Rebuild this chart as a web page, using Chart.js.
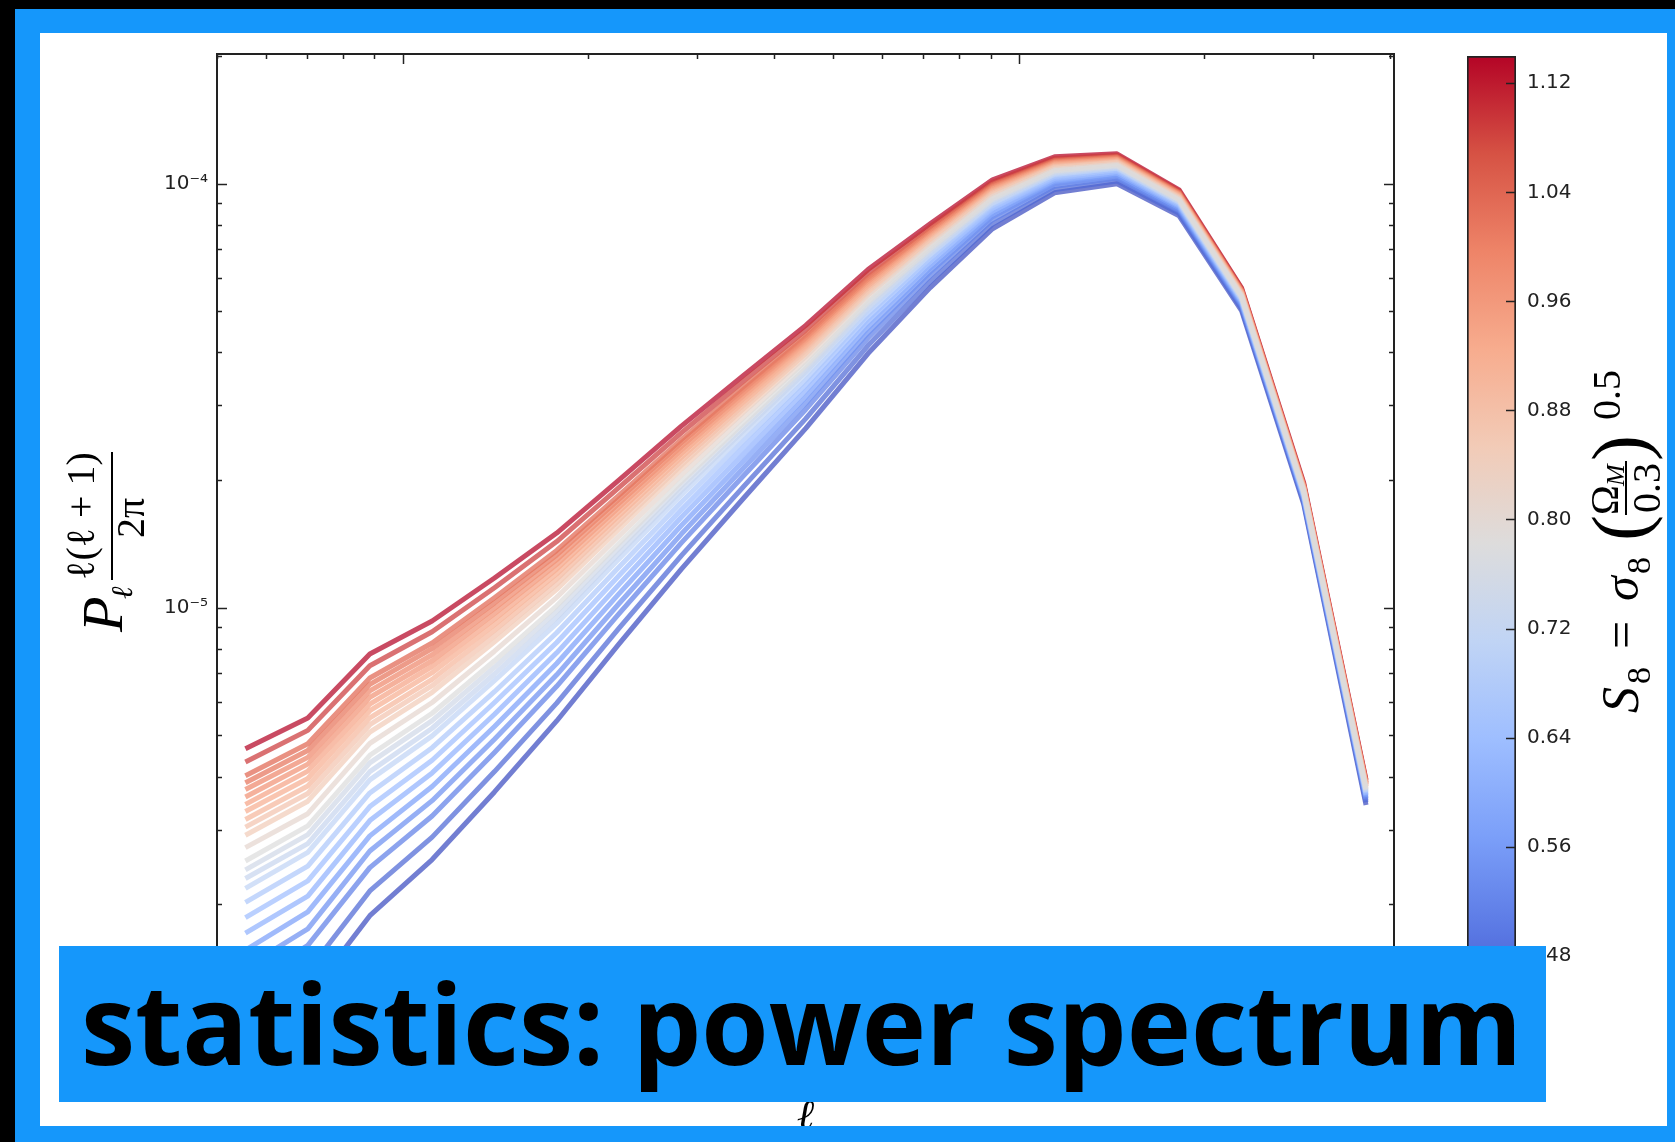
<!DOCTYPE html>
<html>
<head>
<meta charset="utf-8">
<script src="https://cdn.jsdelivr.net/npm/chart.js"></script>
<style>
    body { margin: 0; width: 1675px; height: 1142px; overflow: hidden; position: relative; background: #000; }
    #frame { position: absolute; left: 15px; top: 9px; right: 0; bottom: 0; background: #1597fb; }
    #panel { position: absolute; left: 40px; top: 33px; width: 1627px; height: 1093px; background: #fff; overflow: hidden; }
    #panel canvas { position: absolute; left: 0; top: 0; filter: blur(0.6px); }
    #banner { position: absolute; left: 59px; top: 946px; width: 1487px; height: 156px; background: #1597fb; overflow: hidden; }
    #banner span { position: absolute; left: 22px; top: 20px; font-family: 'Open Sans'; font-weight: 700; font-size: 112px; line-height: 112px; white-space: nowrap; color: #000; transform-origin: 0 0; }
</style>
</head>
<body>
<div id="frame"></div>
<div id="panel">
    <canvas id="spectra" width="1627" height="1093"></canvas>
    <canvas id="colorbar" width="1627" height="1093"></canvas>
</div>
<div id="banner"><span id="bannerText">statistics: power spectrum</span></div>

<script>
// multipole bins (log spaced)
const ELL = [55.6, 70.2, 88.5, 111.7, 141.0, 177.9, 224.4, 283.4, 357.5, 451.1, 569.2, 718.1, 906.3, 1143, 1443, 1820, 2298, 2899, 3659];

// l(l+1)/2pi * P_l for each model, in units of 1e-6
const pk_114 = [4.65, 5.50, 7.78, 9.31, 11.75, 15.0, 20.0, 26.8, 35.3, 46.3, 62.7, 80.4, 102.0, 115.6, 117.5, 96.6, 56.8, 19.7, 3.93];
const pk_109 = [4.33, 5.14, 7.30, 8.78, 11.15, 14.32, 19.19, 25.84, 34.24, 45.11, 61.38, 79.14, 100.8, 114.6, 116.6, 96.03, 56.52, 19.56, 3.91];
const pk_104 = [4.02, 4.78, 6.83, 8.26, 10.56, 13.65, 18.41, 24.92, 33.19, 43.94, 60.08, 77.86, 99.56, 113.5, 115.7, 95.41, 56.19, 19.45, 3.88];
const pk_102 = [3.87, 4.61, 6.60, 8.01, 10.27, 13.32, 18.02, 24.46, 32.66, 43.36, 59.43, 77.22, 98.92, 113.0, 115.3, 95.08, 56.02, 19.40, 3.87];
const pk_099 = [3.73, 4.44, 6.37, 7.75, 9.97, 12.99, 17.63, 23.99, 32.12, 42.76, 58.75, 76.56, 98.26, 112.4, 114.8, 94.75, 55.85, 19.34, 3.86];
const pk_097 = [3.58, 4.28, 6.15, 7.50, 9.69, 12.66, 17.24, 23.53, 31.59, 42.17, 58.09, 75.89, 97.63, 111.9, 114.3, 94.40, 55.67, 19.28, 3.84];
const pk_094 = [3.44, 4.12, 5.93, 7.27, 9.41, 12.34, 16.86, 23.08, 31.06, 41.58, 57.44, 75.23, 96.98, 111.3, 113.9, 94.08, 55.51, 19.23, 3.83];
const pk_092 = [3.31, 3.96, 5.72, 7.03, 9.13, 12.02, 16.48, 22.62, 30.53, 40.98, 56.75, 74.56, 96.31, 110.7, 113.4, 93.73, 55.33, 19.17, 3.82];
const pk_090 = [3.17, 3.80, 5.50, 6.78, 8.85, 11.69, 16.08, 22.15, 29.99, 40.37, 56.07, 73.88, 95.63, 110.2, 112.9, 93.39, 55.14, 19.11, 3.80];
const pk_087 = [3.04, 3.65, 5.30, 6.55, 8.58, 11.37, 15.70, 21.69, 29.45, 39.76, 55.38, 73.19, 94.95, 109.6, 112.4, 93.02, 54.95, 19.05, 3.79];
const pk_085 = [2.91, 3.50, 5.09, 6.32, 8.31, 11.05, 15.32, 21.23, 28.91, 39.14, 54.68, 72.48, 94.23, 109.0, 111.9, 92.66, 54.76, 18.99, 3.78];
const pk_081 = [2.72, 3.27, 4.79, 5.98, 7.90, 10.58, 14.74, 20.53, 28.09, 38.21, 53.61, 71.40, 93.17, 108.1, 111.1, 92.11, 54.47, 18.90, 3.75];
const pk_078 = [2.53, 3.06, 4.49, 5.64, 7.50, 10.11, 14.17, 19.83, 27.26, 37.27, 52.53, 70.29, 92.07, 107.2, 110.3, 91.52, 54.17, 18.80, 3.73];
const pk_075 = [2.41, 2.92, 4.31, 5.42, 7.24, 9.80, 13.79, 19.38, 26.72, 36.65, 51.82, 69.57, 91.33, 106.5, 109.8, 91.14, 53.96, 18.74, 3.72];
const pk_073 = [2.30, 2.78, 4.11, 5.20, 6.98, 9.49, 13.41, 18.90, 26.16, 36.00, 51.07, 68.80, 90.55, 105.9, 109.2, 90.72, 53.75, 18.67, 3.70];
const pk_071 = [2.18, 2.65, 3.93, 4.99, 6.73, 9.18, 13.03, 18.44, 25.61, 35.37, 50.34, 68.05, 89.78, 105.2, 108.6, 90.32, 53.54, 18.60, 3.68];
const pk_067 = [2.02, 2.46, 3.66, 4.68, 6.34, 8.73, 12.46, 17.74, 24.77, 34.39, 49.20, 66.87, 88.61, 104.2, 107.8, 89.68, 53.20, 18.50, 3.66];
const pk_064 = [1.86, 2.27, 3.40, 4.37, 5.98, 8.28, 11.90, 17.03, 23.92, 33.41, 48.05, 65.68, 87.39, 103.1, 106.8, 89.02, 52.86, 18.39, 3.63];
const pk_061 = [1.71, 2.09, 3.15, 4.08, 5.61, 7.83, 11.34, 16.34, 23.08, 32.42, 46.88, 64.47, 86.16, 102.0, 105.9, 88.35, 52.50, 18.28, 3.61];
const pk_057 = [1.56, 1.92, 2.90, 3.79, 5.25, 7.39, 10.78, 15.63, 22.22, 31.41, 45.69, 63.20, 84.86, 100.9, 104.9, 87.64, 52.14, 18.16, 3.58];
const pk_054 = [1.42, 1.75, 2.67, 3.51, 4.90, 6.95, 10.22, 14.92, 21.35, 30.37, 44.45, 61.89, 83.52, 99.75, 103.9, 86.92, 51.74, 18.04, 3.55];
const pk_051 = [1.29, 1.60, 2.44, 3.23, 4.56, 6.53, 9.67, 14.22, 20.48, 29.34, 43.22, 60.58, 82.15, 98.56, 102.9, 86.16, 51.35, 17.91, 3.52];
const pk_047 = [1.12, 1.39, 2.15, 2.88, 4.11, 5.96, 8.94, 13.27, 19.30, 27.91, 41.50, 58.74, 80.24, 96.85, 101.4, 85.08, 50.77, 17.73, 3.48];
const pk_042 = [0.966, 1.21, 1.88, 2.55, 3.68, 5.41, 8.21, 12.33, 18.12, 26.47, 39.74, 56.83, 78.23, 95.08, 99.84, 83.95, 50.18, 17.54, 3.43];

// S8 of each model, same order as the spectra
const S8 = [1.14, 1.09, 1.04, 1.02, 0.99, 0.97, 0.94, 0.92, 0.90, 0.87, 0.85, 0.81, 0.78, 0.75, 0.73, 0.71, 0.67, 0.64, 0.61, 0.57, 0.54, 0.51, 0.47, 0.424];
const SPECTRA = [pk_114, pk_109, pk_104, pk_102, pk_099, pk_097, pk_094, pk_092, pk_090, pk_087, pk_085, pk_081,
                 pk_078, pk_075, pk_073, pk_071, pk_067, pk_064, pk_061, pk_057, pk_054, pk_051, pk_047, pk_042];

// colour bar range and ticks
const S8_MIN = 0.424;
const S8_MAX = 1.14;
const CB_TICKS = [0.48, 0.56, 0.64, 0.72, 0.80, 0.88, 0.96, 1.04, 1.12];

// coolwarm
const COOLWARM = ['#3b4cc0', '#5977e3', '#7b9ff9', '#9ebeff', '#c0d4f5', '#dddcdc', '#f2cbb7', '#f7ac8e', '#ee8468', '#d65244', '#b40426'];

function hexToRgb(h) {
    return [parseInt(h.slice(1, 3), 16), parseInt(h.slice(3, 5), 16), parseInt(h.slice(5, 7), 16)];
}

function coolwarm(t, alpha) {
    t = Math.min(1, Math.max(0, t));
    const f = t * (COOLWARM.length - 1);
    const i = Math.min(COOLWARM.length - 2, Math.floor(f));
    const a = hexToRgb(COOLWARM[i]);
    const b = hexToRgb(COOLWARM[i + 1]);
    const k = f - i;
    const c = a.map((v, j) => Math.round(v + (b[j] - v) * k));
    return 'rgba(' + c[0] + ',' + c[1] + ',' + c[2] + ',' + alpha + ')';
}

const SUP = { '-': '\u207b', '0': '\u2070', '1': '\u00b9', '2': '\u00b2', '3': '\u00b3', '4': '\u2074', '5': '\u2075', '6': '\u2076', '7': '\u2077', '8': '\u2078', '9': '\u2079' };

function decadeLabel(v) {
    const lg = Math.log10(v);
    const e = Math.round(lg);
    if (Math.abs(lg - e) > 1e-6) return '';
    return '10' + String(e).split('').map(c => SUP[c]).join('');
}

// only ticks on 1..9 x 10^n get a mark
function isNiceTick(v) {
    const s = v / Math.pow(10, Math.floor(Math.log10(v) + 1e-9));
    return Math.abs(s - Math.round(s)) < 1e-6;
}

const TICK_FONT = { family: 'DejaVu Sans', size: 20 };
const INK = '#222';
const MID_S8 = (S8_MIN + S8_MAX) / 2;

// curves near the middle of the colour range are painted last
const datasets = SPECTRA.map((vals, k) => ({
    label: 'S8 = ' + S8[k],
    data: vals.map((v, i) => ({ x: ELL[i], y: v * 1e-6 })),
    borderColor: coolwarm((S8[k] - S8_MIN) / (S8_MAX - S8_MIN), 0.72),
    borderWidth: 5,
    pointRadius: 0,
    tension: 0,
    fill: false,
    borderJoinStyle: 'round',
    borderCapStyle: 'butt',
    order: Math.round(Math.abs(S8[k] - MID_S8) * 100)
}));

function line(ctx, x1, y1, x2, y2) {
    ctx.beginPath();
    ctx.moveTo(x1, y1);
    ctx.lineTo(x2, y2);
    ctx.stroke();
}

// box, inward ticks on all four sides, and the axis labels
const axesDecor = {
    id: 'axesDecor',
    afterDraw(chart) {
        const { ctx, chartArea: a, scales } = chart;
        ctx.save();
        ctx.strokeStyle = INK;
        ctx.lineWidth = 1.5;
        scales.x.ticks.forEach(t => {
            if (!isNiceTick(t.value)) return;
            const px = Math.round(scales.x.getPixelForValue(t.value)) + 0.5;
            const len = t.major ? 10 : 5;
            line(ctx, px, a.top, px, a.top + len);
            line(ctx, px, a.bottom, px, a.bottom - len);
        });
        scales.y.ticks.forEach(t => {
            if (!isNiceTick(t.value)) return;
            const py = Math.round(scales.y.getPixelForValue(t.value)) + 0.5;
            const len = t.major ? 10 : 5;
            line(ctx, a.left, py, a.left + len, py);
            line(ctx, a.right, py, a.right - len, py);
        });
        ctx.lineWidth = 2;
        ctx.strokeRect(a.left, a.top, a.right - a.left, a.bottom - a.top);

        // x label
        ctx.fillStyle = '#000';
        ctx.textAlign = 'center';
        ctx.textBaseline = 'alphabetic';
        ctx.font = "italic 42px 'Liberation Serif'";
        ctx.fillText('\u2113', (a.left + a.right) / 2, 1096);

        // y label: P_l l(l+1)/2pi, rotated
        ctx.translate(82, 599);
        ctx.rotate(-Math.PI / 2);
        ctx.textAlign = 'left';
        ctx.font = "italic 58px 'Liberation Serif'";
        ctx.fillText('P', 0, 0);
        ctx.font = "italic 30px 'Liberation Serif'";
        ctx.fillText('\u2113', 33, 10);
        ctx.fillRect(52, -11, 128, 2);
        ctx.textAlign = 'center';
        ctx.font = "40px 'Liberation Serif'";
        ctx.fillText('\u2113(\u2113 + 1)', 116, -28);
        ctx.fillText('2\u03c0', 114, 22);
        ctx.restore();
    }
};

new Chart(document.getElementById('spectra'), {
    type: 'line',
    data: { datasets: datasets },
    options: {
        responsive: false,
        animation: false,
        layout: { padding: { top: 19, right: 273, bottom: 0, left: 0 } },
        plugins: { legend: { display: false }, tooltip: { enabled: false } },
        scales: {
            x: {
                type: 'logarithmic',
                position: 'bottom',
                min: 50,
                max: 4062,
                grid: { display: false, drawTicks: false },
                border: { display: false },
                ticks: { autoSkip: false, maxRotation: 0, padding: 10, color: INK, font: TICK_FONT, callback: decadeLabel },
                afterFit: s => { s.height = 94; }
            },
            y: {
                type: 'logarithmic',
                min: 1e-6,
                max: 2.02e-4,
                grid: { display: false, drawTicks: false },
                border: { display: false },
                ticks: { autoSkip: false, padding: 9, color: INK, font: TICK_FONT, callback: decadeLabel },
                afterFit: s => { s.width = 177; }
            }
        }
    },
    plugins: [axesDecor]
});

// colour bar: one floating bar over the S8 range, filled through the y scale
const cbDecor = {
    id: 'cbDecor',
    afterDraw(chart) {
        const { ctx, chartArea: a, scales } = chart;
        ctx.save();
        ctx.strokeStyle = INK;
        ctx.lineWidth = 1.5;
        CB_TICKS.forEach(v => {
            const py = Math.round(scales.y.getPixelForValue(v)) + 0.5;
            line(ctx, a.right - 10, py, a.right, py);
        });

        // S_8 = sigma_8 (Omega_M / 0.3)^0.5, rotated
        ctx.fillStyle = '#000';
        ctx.textBaseline = 'alphabetic';
        ctx.translate(1598, 680);
        ctx.rotate(-Math.PI / 2);
        ctx.textAlign = 'left';
        ctx.font = "italic 52px 'Liberation Serif'";
        ctx.fillText('S', 0, 0);
        ctx.font = "34px 'Liberation Serif'";
        ctx.fillText('8', 29, 12);
        ctx.font = "50px 'Liberation Serif'";
        ctx.fillText('=', 64, 0);
        ctx.font = "italic 50px 'Liberation Serif'";
        ctx.fillText('\u03c3', 112, 0);
        ctx.font = "34px 'Liberation Serif'";
        ctx.fillText('8', 139, 12);
        ctx.font = "78px 'Liberation Serif'";
        ctx.fillText('(', 172, 8);
        ctx.fillText(')', 252, 8);
        ctx.fillRect(198, -13, 54, 2);
        ctx.font = "40px 'Liberation Serif'";
        ctx.fillText('\u03a9', 198, -20);
        ctx.font = "italic 26px 'Liberation Serif'";
        ctx.fillText('M', 227, -14);
        ctx.font = "40px 'Liberation Serif'";
        ctx.textAlign = 'center';
        ctx.fillText('0.3', 225, 22);
        ctx.textAlign = 'left';
        ctx.fillText('0.5', 293, -18);
        ctx.restore();
    }
};

new Chart(document.getElementById('colorbar'), {
    type: 'bar',
    data: {
        labels: [''],
        datasets: [{
            data: [[S8_MIN, S8_MAX]],
            backgroundColor: (c) => {
                const ch = c.chart;
                if (!ch.chartArea) return null;
                const y = ch.scales.y;
                const g = ch.ctx.createLinearGradient(0, y.getPixelForValue(S8_MIN), 0, y.getPixelForValue(S8_MAX));
                COOLWARM.forEach((col, i) => g.addColorStop(i / (COOLWARM.length - 1), col));
                return g;
            },
            borderColor: INK,
            borderWidth: 2,
            borderSkipped: false,
            barPercentage: 1,
            categoryPercentage: 1
        }]
    },
    options: {
        responsive: false,
        animation: false,
        layout: { padding: { top: 19, right: 51, bottom: 94, left: 1427 } },
        plugins: { legend: { display: false }, tooltip: { enabled: false } },
        scales: {
            x: { display: false },
            y: {
                position: 'right',
                min: S8_MIN,
                max: S8_MAX,
                grid: { display: false, drawTicks: false },
                border: { display: false },
                afterBuildTicks: s => { s.ticks = CB_TICKS.map(v => ({ value: v })); },
                ticks: { padding: 11, color: INK, font: TICK_FONT, callback: v => v.toFixed(2) },
                afterFit: s => { s.width = 100; }
            }
        }
    },
    plugins: [cbDecor]
});

// fit the banner caption to its box
const cap = document.getElementById('bannerText');
const w = cap.getBoundingClientRect().width;
cap.style.transform = 'scaleX(' + (1441 / w) + ')';
</script>
</body>
</html>
